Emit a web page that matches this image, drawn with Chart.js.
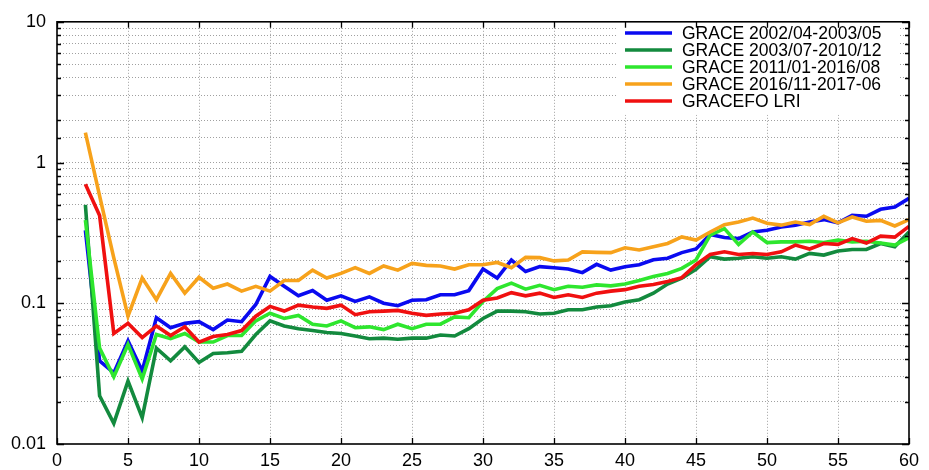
<!DOCTYPE html>
<html>
<head>
<meta charset="utf-8">
<script src="https://cdn.jsdelivr.net/npm/chart.js@4/dist/chart.umd.min.js"></script>
<style>
  html, body { margin: 0; padding: 0; background: #ffffff; }
  #wrap { width: 929px; height: 470px; }
</style>
</head>
<body>
<div id="wrap"><canvas id="c" width="929" height="470"></canvas></div>
<script>
// Degree n = 2 .. 60
const degrees = [];
for (let n = 2; n <= 60; n++) degrees.push(n);

const grace0204 = [0.33, 0.039, 0.032, 0.054, 0.033, 0.079, 0.067, 0.072, 0.074, 0.065,
  0.076, 0.074, 0.098, 0.155, 0.132, 0.113, 0.123, 0.105, 0.113, 0.103,
  0.111, 0.100, 0.096, 0.105, 0.106, 0.115, 0.115, 0.123, 0.175, 0.151,
  0.203, 0.168, 0.182, 0.179, 0.175, 0.165, 0.189, 0.172, 0.182, 0.188,
  0.204, 0.209, 0.229, 0.243, 0.308, 0.293, 0.288, 0.321, 0.330, 0.348,
  0.359, 0.378, 0.393, 0.373, 0.422, 0.415, 0.465, 0.482, 0.557];

const grace0307 = [0.50, 0.022, 0.014, 0.028, 0.0154, 0.048, 0.039, 0.049, 0.038, 0.044,
  0.0445, 0.0455, 0.060, 0.075, 0.069, 0.066, 0.064, 0.062, 0.061, 0.0585,
  0.056, 0.0565, 0.0555, 0.0565, 0.0565, 0.0595, 0.0585, 0.066, 0.078, 0.088,
  0.088, 0.087, 0.084, 0.085, 0.090, 0.090, 0.094, 0.096, 0.102, 0.106,
  0.118, 0.137, 0.151, 0.174, 0.214, 0.206, 0.209, 0.214, 0.209, 0.214,
  0.206, 0.226, 0.220, 0.235, 0.241, 0.241, 0.266, 0.252, 0.321];

const grace1101 = [0.39, 0.048, 0.030, 0.051, 0.029, 0.060, 0.056, 0.061, 0.053, 0.053,
  0.059, 0.059, 0.075, 0.085, 0.078, 0.082, 0.071, 0.069, 0.075, 0.067,
  0.068, 0.065, 0.071, 0.066, 0.071, 0.071, 0.080, 0.079, 0.103, 0.127,
  0.139, 0.126, 0.134, 0.125, 0.132, 0.130, 0.135, 0.133, 0.137, 0.145,
  0.155, 0.163, 0.177, 0.203, 0.305, 0.339, 0.262, 0.321, 0.270, 0.273,
  0.273, 0.276, 0.270, 0.281, 0.273, 0.276, 0.268, 0.259, 0.292];

const grace1611 = [1.63, 0.58, 0.21, 0.081, 0.151, 0.106, 0.163, 0.118, 0.153, 0.128,
  0.137, 0.122, 0.132, 0.122, 0.145, 0.145, 0.172, 0.151, 0.163, 0.179,
  0.163, 0.184, 0.172, 0.192, 0.186, 0.184, 0.175, 0.188, 0.188, 0.195,
  0.179, 0.212, 0.211, 0.200, 0.203, 0.232, 0.230, 0.229, 0.248, 0.239,
  0.252, 0.266, 0.296, 0.281, 0.321, 0.362, 0.378, 0.403, 0.370, 0.359,
  0.378, 0.362, 0.415, 0.373, 0.410, 0.383, 0.388, 0.354, 0.393];

const gracefoLri = [0.70, 0.42, 0.061, 0.072, 0.057, 0.069, 0.059, 0.068, 0.053, 0.058,
  0.060, 0.064, 0.081, 0.095, 0.088, 0.097, 0.094, 0.092, 0.097, 0.083,
  0.087, 0.088, 0.089, 0.085, 0.082, 0.084, 0.085, 0.090, 0.105, 0.109,
  0.119, 0.113, 0.118, 0.110, 0.115, 0.110, 0.118, 0.122, 0.125, 0.132,
  0.136, 0.143, 0.152, 0.188, 0.222, 0.232, 0.222, 0.226, 0.222, 0.232,
  0.259, 0.243, 0.266, 0.262, 0.288, 0.268, 0.300, 0.295, 0.352];

const seriesNames = [
  'GRACE 2002/04-2003/05',
  'GRACE 2003/07-2010/12',
  'GRACE 2011/01-2016/08',
  'GRACE 2016/11-2017-06',
  'GRACEFO LRI'
];
const seriesValues = [grace0204, grace0307, grace1101, grace1611, gracefoLri];
const seriesColors = ['#0a0af0', '#138a3e', '#2ee62e', '#f7a21b', '#f01010'];

const xTickValues = [0, 5, 10, 15, 20, 25, 30, 35, 40, 45, 50, 55, 60];
const yTickValues = [0.01, 0.1, 1, 10];
const yTickLabels = ['0.01', '0.1', '1', '10'];

const FONT = '"Liberation Sans", Arial, Helvetica, sans-serif';

const datasets = seriesNames.map((name, i) => ({
  label: name,
  data: degrees.map((d, k) => ({ x: d, y: seriesValues[i][k] })),
  borderColor: seriesColors[i],
  backgroundColor: seriesColors[i],
  borderWidth: 3.6,
  pointRadius: 0,
  tension: 0,
  order: seriesNames.length - i
}));

function isDecade(v) {
  return yTickValues.some(t => Math.abs(t - v) / t < 1e-6);
}

// Frame, inward tick marks and the in-plot legend
const framePlugin = {
  id: 'frame',
  beforeDatasetsDraw(chart) {
    const { ctx, chartArea: a } = chart;
    // white legend panel covers the grid
    ctx.save();
    ctx.fillStyle = '#ffffff';
    ctx.fillRect(617, a.top + 1, 281, 92);
    ctx.restore();
  },
  afterDraw(chart) {
    const { ctx, chartArea: a, scales } = chart;
    const xs = scales.x, ys = scales.y;
    ctx.save();
    ctx.strokeStyle = '#000000';
    ctx.lineWidth = 1.3;
    // x ticks, bottom and top
    xTickValues.forEach(v => {
      const px = Math.round(xs.getPixelForValue(v)) + 0.5;
      ctx.beginPath();
      ctx.moveTo(px, a.bottom); ctx.lineTo(px, a.bottom - 6);
      ctx.moveTo(px, a.top); ctx.lineTo(px, a.top + 6);
      ctx.stroke();
    });
    // y ticks, left and right
    ys.ticks.forEach(t => {
      const py = Math.round(ys.getPixelForValue(t.value)) + 0.5;
      const len = isDecade(t.value) ? 7 : 4;
      ctx.beginPath();
      ctx.moveTo(a.left, py); ctx.lineTo(a.left + len, py);
      ctx.moveTo(a.right, py); ctx.lineTo(a.right - len, py);
      ctx.stroke();
    });
    // frame
    ctx.lineWidth = 1.6;
    ctx.strokeRect(a.left, a.top, a.right - a.left, a.bottom - a.top);

    // legend
    ctx.font = '17.5px ' + FONT;
    ctx.textBaseline = 'middle';
    ctx.textAlign = 'left';
    seriesNames.forEach((name, i) => {
      const y = 33 + i * 17;
      ctx.strokeStyle = seriesColors[i];
      ctx.lineWidth = 3.5;
      ctx.beginPath();
      ctx.moveTo(625, y); ctx.lineTo(672, y);
      ctx.stroke();
      ctx.fillStyle = '#000000';
      ctx.fillText(name, 682, y + 1);
    });
    ctx.restore();
  }
};

new Chart(document.getElementById('c'), {
  type: 'line',
  data: { datasets },
  options: {
    responsive: false,
    animation: false,
    events: [],
    layout: { padding: { left: 0, right: 20, top: 18, bottom: 0 } },
    plugins: { legend: { display: false }, tooltip: { enabled: false } },
    scales: {
      x: {
        type: 'linear',
        min: 0,
        max: 60,
        afterFit: s => { s.height = 26; },
        afterBuildTicks: s => { s.ticks = xTickValues.map(v => ({ value: v })); },
        ticks: {
          padding: 6,
          color: '#000000',
          font: { family: FONT, size: 18 },
          maxRotation: 0,
          callback: v => String(v)
        },
        grid: {
          drawTicks: false,
          color: ctx => (ctx.tick && (ctx.tick.value === 0 || ctx.tick.value === 60)) ? 'rgba(0,0,0,0)' : '#a0a0a0',
          lineWidth: 1,
          tickLength: 0
        },
        border: { display: false, dash: [1, 2] }
      },
      y: {
        type: 'logarithmic',
        min: 0.01,
        max: 10,
        afterFit: s => { s.width = 57; },
        ticks: {
          padding: 11,
          color: '#000000',
          autoSkip: false,
          font: { family: FONT, size: 18 },
          callback: v => {
            const k = yTickValues.findIndex(t => Math.abs(t - v) / t < 1e-6);
            return k >= 0 ? yTickLabels[k] : '';
          }
        },
        grid: {
          drawTicks: false,
          color: ctx => (ctx.tick && (Math.abs(ctx.tick.value - 0.01) < 1e-9 || Math.abs(ctx.tick.value - 10) < 1e-9)) ? 'rgba(0,0,0,0)' : '#a0a0a0',
          lineWidth: 1
        },
        border: { display: false, dash: [1, 2] }
      }
    }
  },
  plugins: [framePlugin]
});
</script>
</body>
</html>
